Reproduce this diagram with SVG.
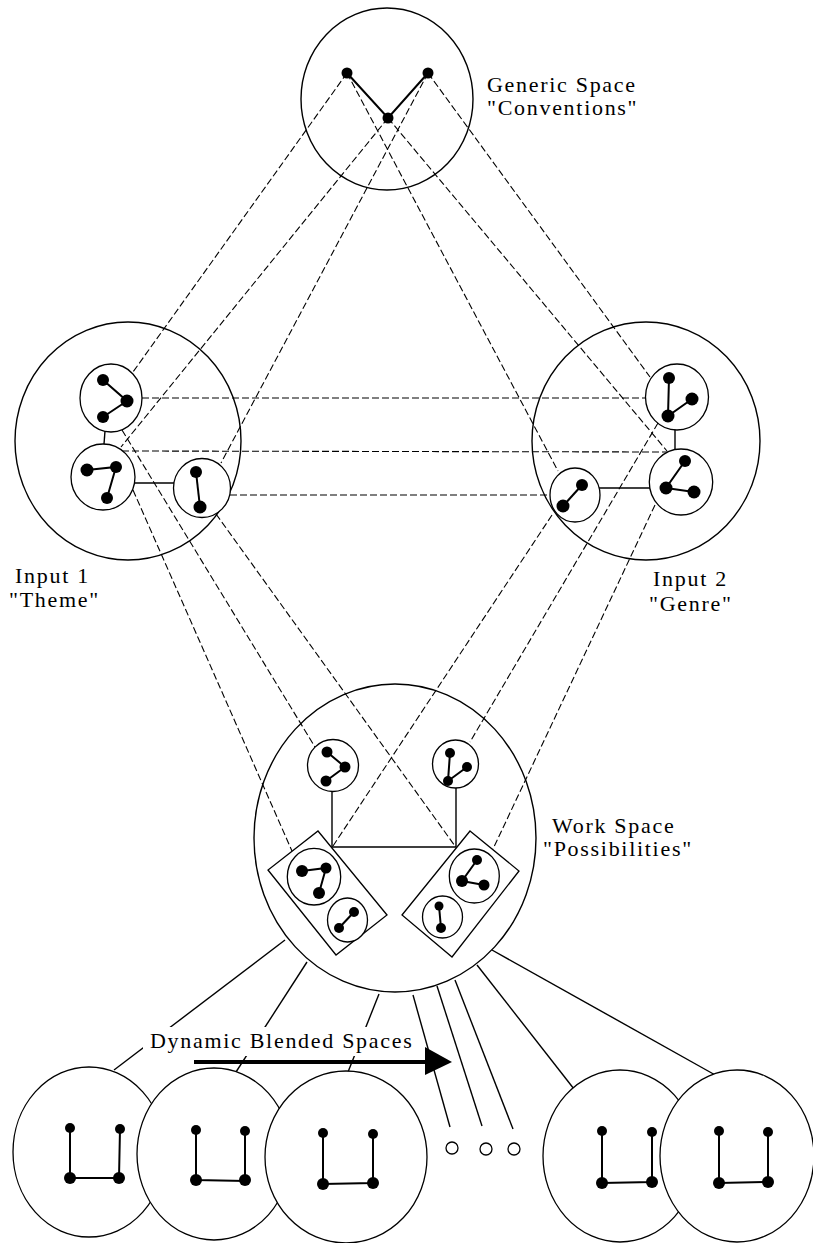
<svg xmlns="http://www.w3.org/2000/svg" width="813" height="1243" viewBox="0 0 813 1243">
<defs>
<style>
.big{fill:none;stroke:#000;stroke-width:1.4}
.sub{fill:#fff;stroke:#000;stroke-width:1.3}
.box{fill:#fff;stroke:#000;stroke-width:1.3}
.dot{fill:#000}
.edge{stroke:#000;stroke-width:2;fill:none}
.dash{stroke:#000;stroke-width:1.1;stroke-dasharray:7 3;fill:none}
.solid{stroke:#000;stroke-width:1.4;fill:none}
.blend{fill:#fff;stroke:#000;stroke-width:1.3}
.lbl{font-family:"Liberation Serif","Times New Roman",serif;font-size:22px;letter-spacing:1.7px;fill:#000}
.tiny{fill:none;stroke:#000;stroke-width:1.3}
</style>
</defs>
<rect width="813" height="1243" fill="#fff"/>

<!-- container spaces -->
<g id="generic-space">
  <ellipse class="big" cx="387" cy="99" rx="86" ry="91"/>
  <text class="lbl" x="487" y="92">Generic Space</text>
  <text class="lbl" x="487" y="115">"Conventions"</text>
</g>
<g id="input1">
  <ellipse class="big" cx="128" cy="441" rx="113" ry="119"/>
  <text class="lbl" x="15" y="583">Input 1</text>
  <text class="lbl" x="9" y="607">"Theme"</text>
</g>
<g id="input2">
  <ellipse class="big" cx="646" cy="441" rx="114" ry="119"/>
  <text class="lbl" x="653" y="586">Input 2</text>
  <text class="lbl" x="649" y="611">"Genre"</text>
</g>
<g id="work-space">
  <ellipse class="big" cx="395" cy="838" rx="141" ry="154"/>
  <text class="lbl" x="552" y="833">Work Space</text>
  <text class="lbl" x="543" y="856">"Possibilities"</text>
</g>

<!-- connectors -->
<g id="connectors">
  <line class="dash" x1="347" y1="73" x2="133" y2="372"/>
  <line class="dash" x1="388" y1="118" x2="121" y2="447"/>
  <line class="dash" x1="428" y1="73" x2="221" y2="463"/>
  <line class="dash" x1="347" y1="73" x2="558" y2="471"/>
  <line class="dash" x1="428" y1="73" x2="650" y2="377"/>
  <line class="dash" x1="388" y1="118" x2="667" y2="451"/>
  <line class="dash" x1="142" y1="398" x2="646" y2="398"/>
  <line class="dash" x1="122" y1="451" x2="668" y2="452"/>
  <line class="dash" x1="230" y1="495" x2="550" y2="495"/>
  <line class="dash" x1="122" y1="430" x2="315" y2="747"/>
  <line class="dash" x1="133" y1="490" x2="292" y2="851"/>
  <line class="dash" x1="216" y1="514" x2="455" y2="846"/>
  <line class="dash" x1="552" y1="515" x2="333" y2="846"/>
  <line class="dash" x1="658" y1="423" x2="470" y2="742"/>
  <line class="dash" x1="655" y1="505" x2="493" y2="849"/>
  <!-- solid links between sub-spaces -->
  <line class="solid" x1="105" y1="431" x2="104" y2="444"/>
  <line class="solid" x1="135" y1="483" x2="174" y2="483"/>
  <line class="solid" x1="675" y1="429" x2="675" y2="449"/>
  <line class="solid" x1="599" y1="488" x2="650" y2="488"/>
  <polyline class="solid" points="332,791 332,847 456,847 456,788"/>
  <!-- work space to blended spaces -->
  <line class="solid" x1="285" y1="940" x2="114" y2="1070"/>
  <line class="solid" x1="307" y1="962" x2="236" y2="1072"/>
  <line class="solid" x1="379" y1="994" x2="348" y2="1072"/>
  <line class="solid" x1="413" y1="995" x2="450" y2="1127"/>
  <line class="solid" x1="437" y1="986" x2="482" y2="1126"/>
  <line class="solid" x1="455" y1="980" x2="513" y2="1129"/>
  <line class="solid" x1="477" y1="965" x2="574" y2="1089"/>
  <line class="solid" x1="492" y1="950" x2="717" y2="1076"/>
</g>

<!-- generic space nodes -->
<g id="generic-elements">
  <polyline class="edge" points="347,73 388,118 428,73"/>
  <circle class="dot" cx="347" cy="73" r="5.5"/>
  <circle class="dot" cx="428" cy="73" r="5.5"/>
  <circle class="dot" cx="388" cy="118" r="5.5"/>
</g>

<!-- input 1 sub-spaces -->
<g id="in1-a">
  <ellipse class="sub" cx="111" cy="398" rx="31" ry="34"/>
  <polyline class="edge" points="103,380 127,401 103,417"/>
  <circle class="dot" cx="103" cy="380" r="6"/>
  <circle class="dot" cx="127" cy="401" r="6.5"/>
  <circle class="dot" cx="103" cy="417" r="6"/>
</g>
<g id="in1-b">
  <ellipse class="sub" cx="103" cy="477" rx="32" ry="33"/>
  <polyline class="edge" points="87,470 116,467 107,498"/>
  <circle class="dot" cx="87" cy="470" r="6.5"/>
  <circle class="dot" cx="116" cy="467" r="6"/>
  <circle class="dot" cx="107" cy="498" r="6"/>
</g>
<g id="in1-c">
  <ellipse class="sub" cx="202" cy="488" rx="28.5" ry="29.5"/>
  <line class="edge" x1="196" y1="472" x2="200" y2="507"/>
  <circle class="dot" cx="196" cy="472" r="6"/>
  <circle class="dot" cx="200" cy="507" r="6.5"/>
</g>

<!-- input 2 sub-spaces -->
<g id="in2-d">
  <ellipse class="sub" cx="677" cy="397" rx="31.5" ry="33"/>
  <polyline class="edge" points="669,378 668,416 692,399"/>
  <circle class="dot" cx="669" cy="378" r="6"/>
  <circle class="dot" cx="692" cy="399" r="6.5"/>
  <circle class="dot" cx="668" cy="416" r="6.5"/>
</g>
<g id="in2-e">
  <ellipse class="sub" cx="681" cy="482" rx="31.7" ry="33"/>
  <polyline class="edge" points="685,461 666,488 694,492"/>
  <circle class="dot" cx="685" cy="461" r="6"/>
  <circle class="dot" cx="666" cy="488" r="6.5"/>
  <circle class="dot" cx="694" cy="492" r="6.5"/>
</g>
<g id="in2-f">
  <ellipse class="sub" cx="575" cy="495" rx="25" ry="27"/>
  <line class="edge" x1="582" y1="485" x2="563" y2="506"/>
  <circle class="dot" cx="582" cy="485" r="6"/>
  <circle class="dot" cx="563" cy="506" r="6.5"/>
</g>

<!-- work space sub-spaces -->
<g id="ws-g">
  <ellipse class="sub" cx="333" cy="765.5" rx="25.5" ry="26"/>
  <polyline class="edge" points="327,752 345,767 326,781"/>
  <circle class="dot" cx="327" cy="752" r="5.5"/>
  <circle class="dot" cx="345" cy="767" r="5.5"/>
  <circle class="dot" cx="326" cy="781" r="5.5"/>
</g>
<g id="ws-h">
  <ellipse class="sub" cx="455.5" cy="764" rx="23" ry="24"/>
  <polyline class="edge" points="450,753 448,781 467,767"/>
  <circle class="dot" cx="450" cy="753" r="5"/>
  <circle class="dot" cx="467" cy="767" r="5"/>
  <circle class="dot" cx="448" cy="781" r="5"/>
</g>
<g id="ws-left-pair">
  <polygon class="box" points="318,831 387,915 336,955 268,870"/>
  <ellipse class="sub" cx="314" cy="876.7" rx="26.7" ry="28.3"/>
  <polyline class="edge" points="302,871 326,868 319,893"/>
  <circle class="dot" cx="302" cy="871" r="6"/>
  <circle class="dot" cx="326" cy="868" r="5.5"/>
  <circle class="dot" cx="319" cy="893" r="6"/>
  <ellipse class="sub" cx="347.5" cy="920" rx="20" ry="22"/>
  <line class="edge" x1="354" y1="912" x2="339" y2="928"/>
  <circle class="dot" cx="354" cy="912" r="5"/>
  <circle class="dot" cx="339" cy="928" r="5"/>
</g>
<g id="ws-right-pair">
  <polygon class="box" points="470,831 519,871 452,957 402,915"/>
  <ellipse class="sub" cx="474.3" cy="876" rx="25" ry="27"/>
  <polyline class="edge" points="477,860 462,881 484,885"/>
  <circle class="dot" cx="477" cy="860" r="5"/>
  <circle class="dot" cx="462" cy="881" r="6"/>
  <circle class="dot" cx="484" cy="885" r="5.5"/>
  <ellipse class="sub" cx="442.5" cy="917" rx="20" ry="21"/>
  <line class="edge" x1="439" y1="906" x2="441" y2="928"/>
  <circle class="dot" cx="439" cy="906" r="4.5"/>
  <circle class="dot" cx="441" cy="928" r="5"/>
</g>

<!-- blended spaces -->
<g id="blend-1">
  <ellipse class="blend" cx="89" cy="1152" rx="76" ry="85"/>
  <polyline class="edge" points="70,1128 70,1178 119,1178 120,1129"/>
  <circle class="dot" cx="70" cy="1128" r="5"/>
  <circle class="dot" cx="120" cy="1129" r="5"/>
  <circle class="dot" cx="70" cy="1178" r="6"/>
  <circle class="dot" cx="119" cy="1178" r="6"/>
</g>
<g id="blend-2">
  <ellipse class="blend" cx="214" cy="1154" rx="77" ry="86"/>
  <polyline class="edge" points="196,1130 196,1180 245,1181 245,1131"/>
  <circle class="dot" cx="196" cy="1130" r="5"/>
  <circle class="dot" cx="245" cy="1131" r="5"/>
  <circle class="dot" cx="196" cy="1180" r="6"/>
  <circle class="dot" cx="245" cy="1180" r="6"/>
</g>
<g id="blend-3">
  <ellipse class="blend" cx="346" cy="1157" rx="81" ry="86"/>
  <polyline class="edge" points="323,1133 323,1184 373,1183 373,1134"/>
  <circle class="dot" cx="323" cy="1133" r="5"/>
  <circle class="dot" cx="373" cy="1134" r="5"/>
  <circle class="dot" cx="323" cy="1184" r="6"/>
  <circle class="dot" cx="373" cy="1183" r="6"/>
</g>
<g id="ellipsis">
  <ellipse class="tiny" cx="452" cy="1148" rx="6" ry="6"/>
  <ellipse class="tiny" cx="486" cy="1149" rx="6" ry="6"/>
  <ellipse class="tiny" cx="514" cy="1149" rx="6" ry="6"/>
</g>
<g id="blend-4">
  <ellipse class="blend" cx="620" cy="1156" rx="77" ry="86"/>
  <polyline class="edge" points="602,1131 602,1183 652,1182 652,1132"/>
  <circle class="dot" cx="602" cy="1131" r="5"/>
  <circle class="dot" cx="652" cy="1132" r="5"/>
  <circle class="dot" cx="602" cy="1183" r="6"/>
  <circle class="dot" cx="652" cy="1182" r="6"/>
</g>
<g id="blend-5">
  <ellipse class="blend" cx="737" cy="1156" rx="77" ry="86"/>
  <polyline class="edge" points="719,1131 719,1183 768,1182 768,1132"/>
  <circle class="dot" cx="719" cy="1131" r="5"/>
  <circle class="dot" cx="768" cy="1132" r="5"/>
  <circle class="dot" cx="719" cy="1183" r="6"/>
  <circle class="dot" cx="768" cy="1182" r="6"/>
</g>

<!-- label with direction arrow -->
<g id="blended-label">
  <rect x="143" y="1027" width="276" height="29" fill="#fff"/>
  <text class="lbl" x="150" y="1048">Dynamic Blended Spaces</text>
  <line x1="194" y1="1062" x2="428" y2="1062" stroke="#000" stroke-width="4"/>
  <polygon points="425,1047 452,1062 425,1075" fill="#000"/>
</g>
</svg>
